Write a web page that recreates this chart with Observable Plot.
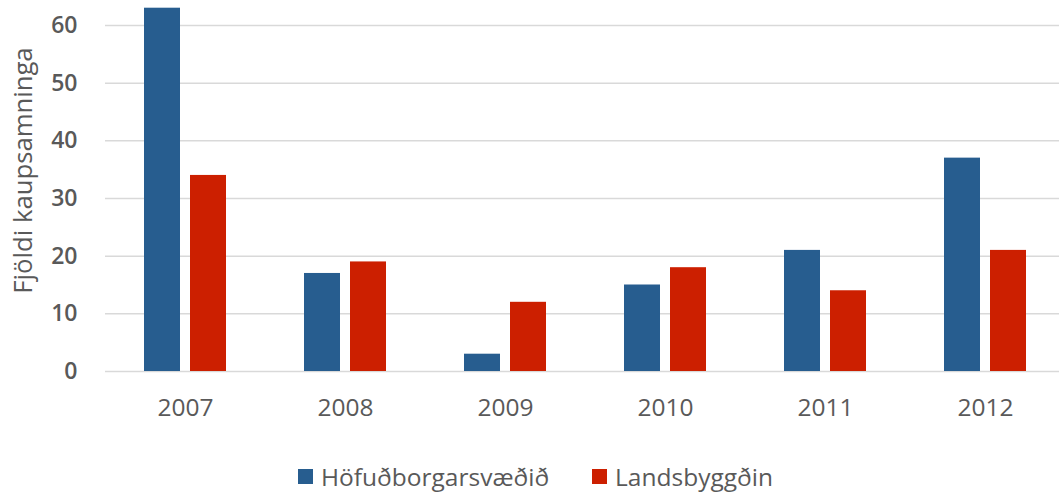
<!DOCTYPE html>
<html>
<head>
<meta charset="utf-8">
<script src="https://cdn.jsdelivr.net/npm/d3@7"></script>
<script src="https://cdn.jsdelivr.net/npm/@observablehq/plot@0.6"></script>
<style>
  html, body { margin: 0; padding: 0; background: #fff; }
  body { width: 1059px; height: 494px; position: relative; overflow: hidden; font-family: "Open Sans", sans-serif; }
  #legend { position: absolute; left: 0; top: 462px; width: 1059px; height: 28px; display: flex; justify-content: center; align-items: center; padding-left: 12px; box-sizing: border-box; font-size: 24.5px; color: #595959; }
  .item { display: flex; align-items: center; }
  .item + .item { margin-left: 43px; }
  .sw { width: 15px; height: 15px; margin-right: 8px; }
</style>
</head>
<body>
<div id="chart"></div>
<div id="legend"></div>
<script>
const years = ["2007", "2008", "2009", "2010", "2011", "2012"];
const seriesNames = ["Höfuðborgarsvæðið", "Landsbyggðin"];
const hofudborg = [63, 17, 3, 15, 21, 37];
const landsbyggd = [34, 19, 12, 18, 14, 21];
const colors = ["#275d8f", "#cc1f00"];
const yTicks = [0, 10, 20, 30, 40, 50, 60];
const yLabel = "Fjöldi kaupsamninga";

const data = [];
years.forEach((y, i) => {
  data.push({year: y, series: seriesNames[0], value: hofudborg[i]});
  data.push({year: y, series: seriesNames[1], value: landsbyggd[i]});
});

const chart = Plot.plot({
  width: 1059,
  height: 440,
  marginLeft: 105,
  marginRight: -6,
  marginTop: 25,
  marginBottom: 69,
  style: {fontFamily: "Open Sans, sans-serif", color: "#595959", background: "#fff"},
  fx: {domain: years, padding: 0, label: null},
  x: {domain: seriesNames, paddingInner: 0.213, paddingOuter: 0.809, axis: null},
  y: {domain: [0, 60], label: null},
  color: {domain: seriesNames, range: colors},
  marks: [
    Plot.ruleY(yTicks, {stroke: "#d9d9d9", strokeWidth: 1.5}),
    Plot.barY(data, {fx: "year", x: "series", y: "value", fill: "series"}),
    Plot.axisY({ticks: yTicks, tickSize: 0, tickPadding: 28, fontSize: 23, fontWeight: 600, fill: "#595959", label: null}),
    Plot.text([{year: years[0], label: yLabel}], {fx: "year", text: "label", frameAnchor: "left", dx: -92, dy: -28,
      rotate: -90, textAnchor: "middle", lineAnchor: "top", fontSize: 25.7, fill: "#595959"}),
    Plot.axisFx({anchor: "bottom", tickSize: 0, tickPadding: 27, fontSize: 24.5, fill: "#595959", label: null})
  ]
});
document.getElementById("chart").appendChild(chart);

const legend = document.getElementById("legend");
seriesNames.forEach((s, i) => {
  const it = document.createElement("div");
  it.className = "item";
  const sw = document.createElement("div");
  sw.className = "sw";
  sw.style.background = colors[i];
  const t = document.createElement("span");
  t.textContent = s;
  it.appendChild(sw);
  it.appendChild(t);
  legend.appendChild(it);
});
</script>
</body>
</html>
